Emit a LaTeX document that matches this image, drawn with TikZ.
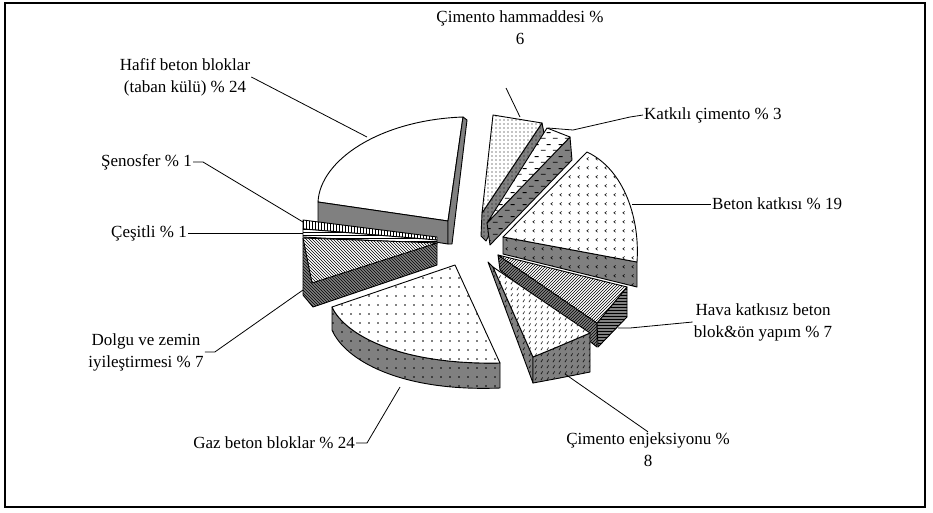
\documentclass[tikz,border=0pt]{standalone}
\usepackage{fontspec}
\setmainfont{Liberation Serif}
\usetikzlibrary{patterns}

\pgfdeclarepatternformonly{sparse dots}{\pgfqpoint{-1pt}{-1pt}}{\pgfqpoint{1pt}{1pt}}{\pgfqpoint{9pt}{9pt}}{%
  \pgfpathcircle{\pgfqpoint{0pt}{0pt}}{.8pt}\pgfusepath{fill}}
\pgfdeclarepatternformonly{fine dots}{\pgfqpoint{-1pt}{-1pt}}{\pgfqpoint{1pt}{1pt}}{\pgfqpoint{4pt}{4pt}}{%
  \pgfpathcircle{\pgfqpoint{0pt}{0pt}}{.6pt}\pgfusepath{fill}}
\pgfdeclarepatternformonly{dashes}{\pgfqpoint{0pt}{0pt}}{\pgfqpoint{12pt}{12pt}}{\pgfqpoint{12pt}{12pt}}{%
  \pgfsetlinewidth{.9pt}%
  \pgfpathmoveto{\pgfqpoint{1pt}{3pt}}\pgfpathlineto{\pgfqpoint{6pt}{3pt}}%
  \pgfpathmoveto{\pgfqpoint{7pt}{9pt}}\pgfpathlineto{\pgfqpoint{11.5pt}{9pt}}%
  \pgfusepath{stroke}}
\pgfdeclarepatternformonly{chevrons}{\pgfqpoint{0pt}{0pt}}{\pgfqpoint{9pt}{9pt}}{\pgfqpoint{9pt}{9pt}}{%
  \pgfsetlinewidth{.6pt}%
  \pgfpathmoveto{\pgfqpoint{4pt}{2pt}}\pgfpathlineto{\pgfqpoint{2pt}{3.5pt}}\pgfpathlineto{\pgfqpoint{4pt}{5pt}}%
  \pgfusepath{stroke}}
\pgfdeclarepatternformonly{slashes}{\pgfqpoint{0pt}{0pt}}{\pgfqpoint{6pt}{6pt}}{\pgfqpoint{6pt}{6pt}}{%
  \pgfsetlinewidth{.7pt}%
  \pgfpathmoveto{\pgfqpoint{1pt}{1pt}}\pgfpathlineto{\pgfqpoint{3pt}{4pt}}\pgfusepath{stroke}}

\tikzset{
  lbl/.style = {font=\fontsize{17}{22}\selectfont, align=center, inner sep=1pt},
  topface/.style = {preaction={fill=white}, pattern=#1, draw, line width=.9pt,
    line join=round},% dilimin ust yuzu
  sideface/.style = {preaction={fill=gray}, pattern=#1, draw, line width=.9pt,
    line join=round},% dilimin yan yuzu
  plainside/.style = {fill=gray, draw, line width=.9pt, line join=round},
  lead/.style = {line width=.8pt},
}

\begin{document}
\begin{tikzpicture}[x=1pt, y=-1pt]
\useasboundingbox (0,0) rectangle (933,512);
\draw[line width=1.2pt] (5,3) rectangle (925,507);

% Hafif beton bloklar
\filldraw[fill=white, line width=.9pt, line join=round] (318,202) .. controls (320,160) and (380,120) .. (463,117) -- (448,221) -- cycle;
\path[plainside] (318,202) -- (448,221) -- (448,244) -- (318,224) -- cycle;
\path[plainside] (463,117) -- (467,120) -- (452,244) -- (448,244) -- (448,221) -- cycle;
% Senosfer, Cesitli
\path[topface=vertical lines] (303,220) -- (437,237) -- (437,240) -- (303,229) -- cycle;
\path[topface=horizontal lines] (303,229) -- (437,240) -- (437,244) -- (303,237) -- cycle;
% Dolgu ve zemin
\path[sideface=north west lines] (303,238) -- (437,243) -- (437,265) -- (313,307) -- (303,295) -- cycle;
\path[topface=north west lines] (303,238) -- (437,243) -- (312,283) -- cycle;
% Gaz beton bloklar
\path[sideface=sparse dots] (332,307) .. controls (345,335) and (400,365) .. (500,363) -- (500,388) .. controls (400,392) and (345,360) .. (332,330) -- cycle;
\path[topface=sparse dots] (455,265) -- (500,363) .. controls (400,365) and (345,335) .. (332,307) -- cycle;
% Cimento hammaddesi
\path[sideface=fine dots] (542,123) -- (544,133) -- (486,241) -- (481,236) -- (482,213) -- cycle;
\path[topface=fine dots] (493,115) -- (542,123) -- (482,213) -- cycle;
% Katkili cimento
\path[sideface=dashes] (570,137) -- (572,160) -- (490,245) -- (487,223) -- cycle;
\path[topface=dashes] (547,128) -- (570,137) -- (487,223) -- cycle;
% Beton katkisi
\path[sideface=chevrons] (503,237) -- (637,262) -- (637,287) -- (503,254) -- cycle;
\path[topface=chevrons] (503,237) -- (587,152) .. controls (625,170) and (640,220) .. (637,262) -- cycle;
% Hava katkisiz
\path[sideface=north east lines] (498,255) -- (597,323) -- (597,347) -- (500,270) -- cycle;
\path[sideface=horizontal lines] (627,287) -- (627,317) -- (598,347) -- (597,323) -- cycle;
\path[topface=north east lines] (498,255) -- (627,287) -- (597,323) -- cycle;
% Cimento enjeksiyonu
\path[sideface=slashes] (488,262) -- (493,267) -- (533,357) -- (533,383) -- cycle;
\path[sideface=slashes] (533,357) .. controls (555,348) .. (590,333) -- (590,372) .. controls (560,378) .. (533,383) -- cycle;
\path[topface=slashes] (493,267) -- (590,333) .. controls (555,348) .. (533,357) -- cycle;

% etiketler
\node[lbl] (hamm) at (520,28) {Çimento hammaddesi \%\\6};
\node[lbl] (hafif) at (185,77) {Hafif beton bloklar\\(taban külü) \% 24};
\node[lbl, anchor=east] (seno) at (193,162) {Şenosfer \% 1};
\node[lbl, anchor=east] (ces) at (188,233) {Çeşitli \% 1};
\node[lbl] (dolgu) at (146,352) {Dolgu ve zemin\\iyileştirmesi \% 7};
\node[lbl, anchor=east] (gaz) at (356,443) {Gaz beton bloklar \% 24};
\node[lbl] (enj) at (648,450) {Çimento enjeksiyonu \%\\8};
\node[lbl] (hava) at (763,322) {Hava katkısız beton\\blok\&ön yapım \% 7};
\node[lbl, anchor=west] (beton) at (711,204) {Beton katkısı \% 19};
\node[lbl, anchor=west] (katk) at (643,115) {Katkılı çimento \% 3};

\coordinate (p-hamm) at (520,117);
\coordinate (p-hafif) at (367,137);
\coordinate (p-seno) at (303,222);
\coordinate (p-ces) at (303,233);
\coordinate (p-dolgu) at (303,290);
\coordinate (p-gaz) at (400,387);
\coordinate (p-enj) at (565,374);
\coordinate (p-hava) at (618,328);
\coordinate (p-beton) at (632,204);
\coordinate (p-katk) at (548,128);

\draw[lead] (p-hamm) -- (506,88);
\draw[lead] (hafif.east) -- (p-hafif);
\draw[lead] (seno.east) -- ++(10,0) -- (p-seno);
\draw[lead] (ces.east) -- (p-ces);
\draw[lead] (dolgu.east) -- ++(10,0) -- (p-dolgu);
\draw[lead] (gaz.east) -- ++(11,0) -- (p-gaz);
\draw[lead] (p-enj) -- (enj.north);
\draw[lead] (p-hava) -- ++(12,0) -- (hava.west);
\draw[lead] (p-beton) -- (beton.west);
\draw[lead] (p-katk) -- (573,130) -- (630,117) -- (katk.west);
\end{tikzpicture}
\end{document}
